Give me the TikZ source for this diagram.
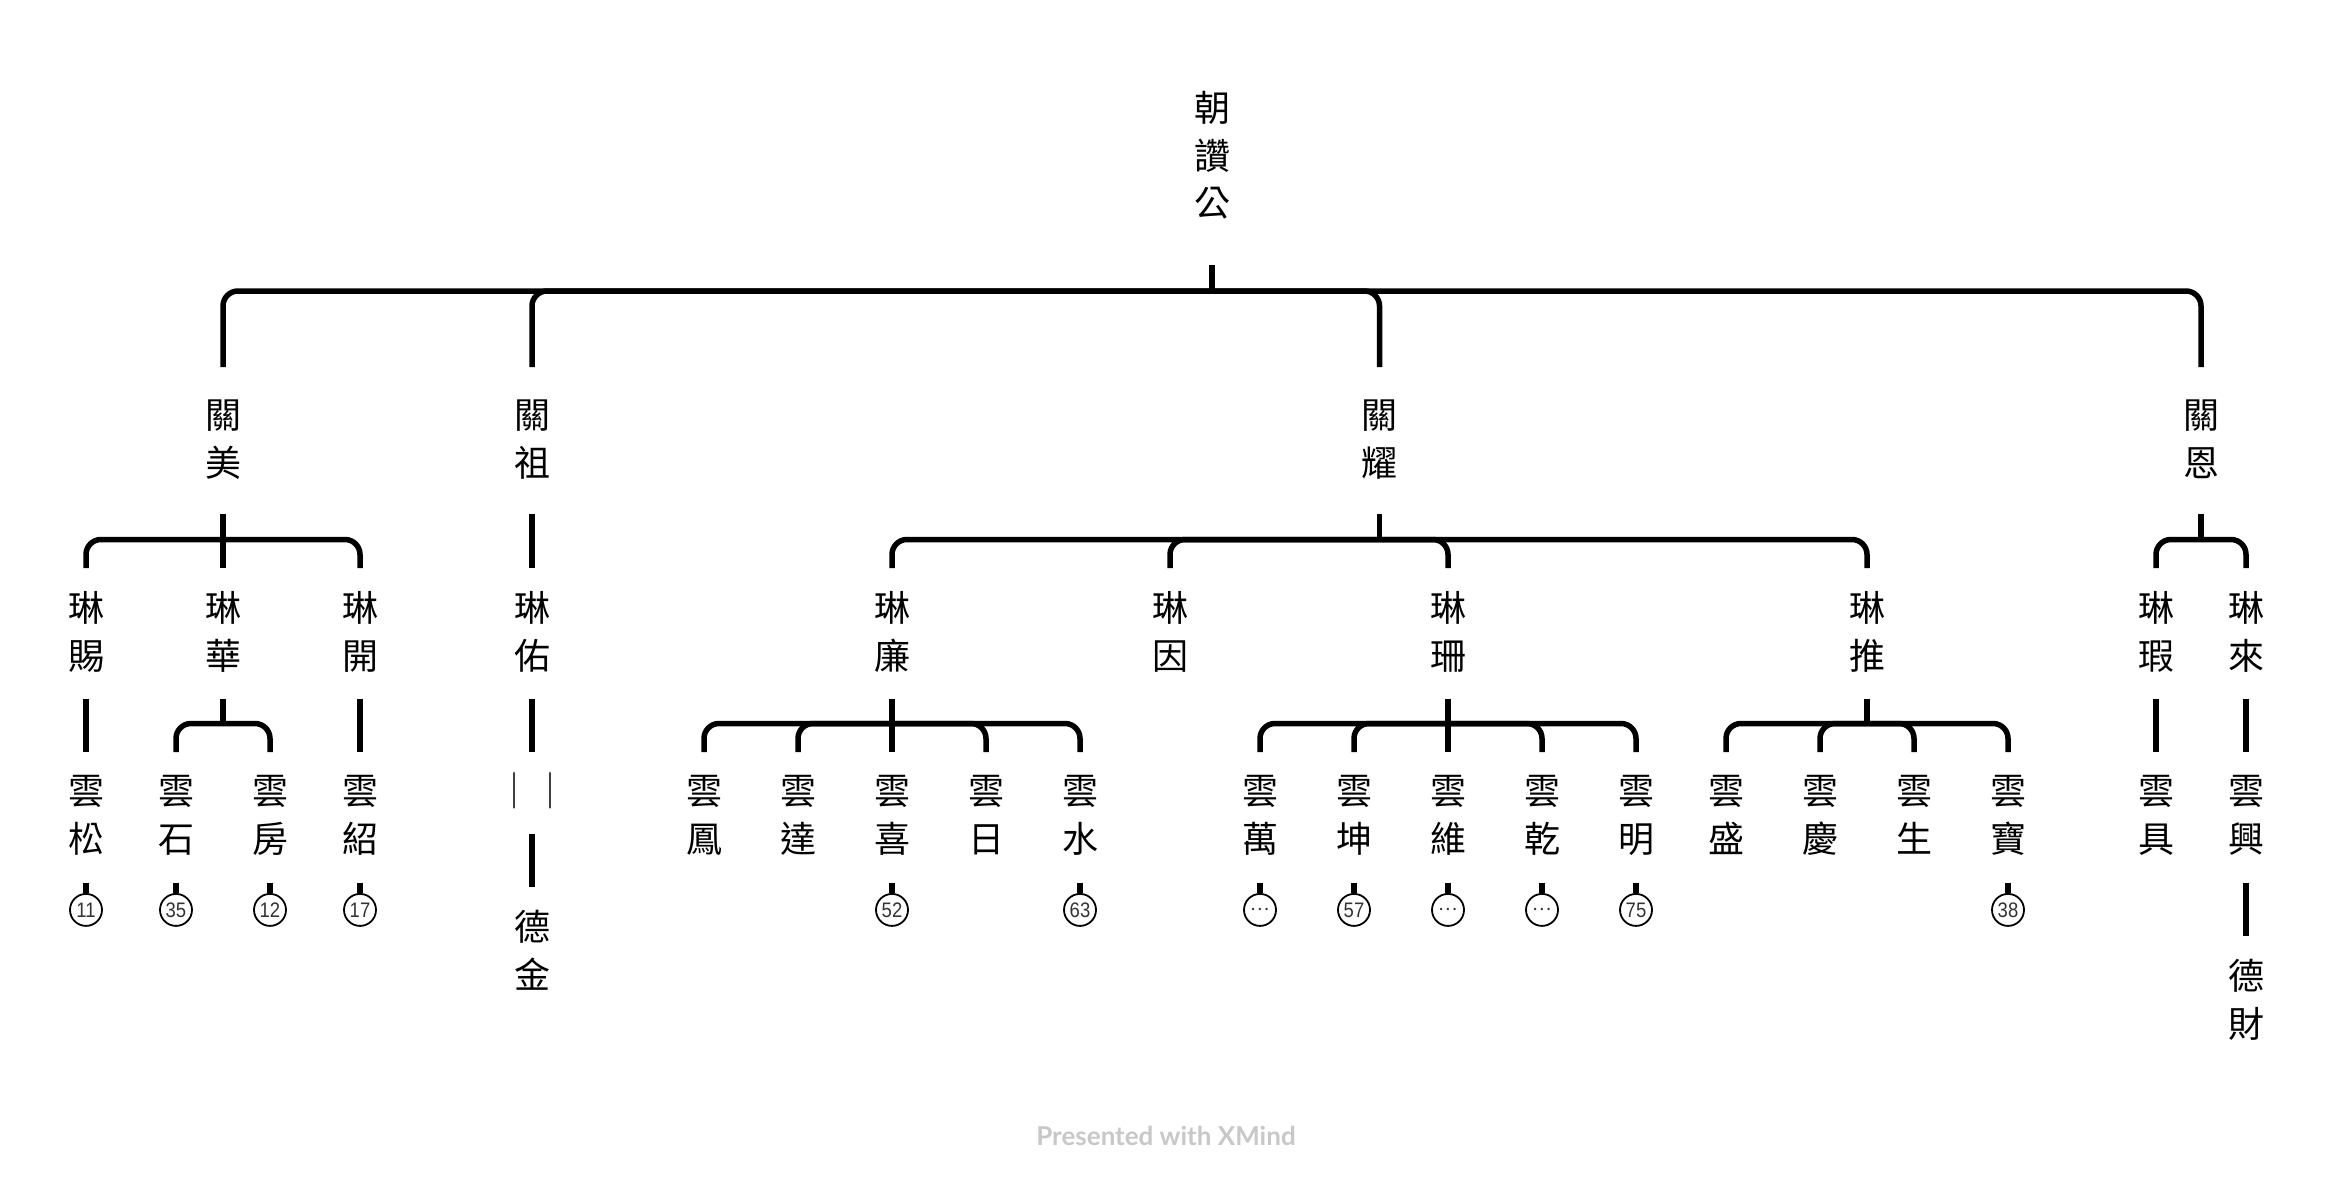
\documentclass[tikz,border=0pt]{standalone}
\usepackage{fontspec}
\usepackage{graphicx}
\newfontfamily\cjk{Noto Sans CJK TC}
\newfontfamily\numfont{Liberation Sans}
\newfontfamily\footfont{Lato}
\usetikzlibrary{calc}
\definecolor{numgray}{HTML}{333333}
\definecolor{footgray}{HTML}{C8C8C8}
\newcommand\vc[1]{\hbox to 40pt{\hss\vrule height 31.68pt depth 4.32pt width 0pt\relax#1\hss}}
\newcommand\vgap{\kern11.5pt\relax}
\newcommand\tstack[3]{\vbox{\offinterlineskip\kern#1pt\relax#3\kern#2pt\relax}}
\newcommand\lone[2]{\tstack{30}{33}{\vc{#1}\vgap\vc{#2}}}
\newcommand\ltwo[2]{\tstack{22}{25}{\vc{#1}\vgap\vc{#2}}}
\newcommand\lthree[2]{\tstack{21}{26}{\vc{#1}\vgap\vc{#2}}}
\newcommand\lfour[2]{\tstack{22}{22}{\vc{#1}\vgap\vc{#2}}}
\newcommand\numtxt[1]{\scalebox{0.88}[1]{#1}}
\newcommand\ellip{\cjk\fontsize{18}{18}\selectfont …}
\tikzset{
  topic/.style={anchor=north, inner sep=0pt, outer sep=0pt, font=\cjk\fontsize{36}{47.5}\selectfont},
  conn/.style={line width=5.5pt, draw=black},
  elbow/.style={conn, rounded corners=15pt},
  numc/.style={circle, draw=black, line width=1.8pt, minimum size=32pt, inner sep=0pt, anchor=north, font=\numfont\fontsize{21}{21}\selectfont, text=numgray},
}
\begin{document}
\begin{tikzpicture}[x=1pt,y=-1pt]
\useasboundingbox (0,0) rectangle (2332,1186);
\fill[white] (0,0) rectangle (2332,1186);

% root
\node[topic] (r) at (1212,70) {\tstack{20}{44}{\vc{朝}\vgap\vc{讚}\vgap\vc{公}}};

% level 1
\node[topic] (a1) at (223,367) {\lone{關}{美}};
\node[topic] (a2) at (532,367) {\lone{關}{祖}};
\node[topic] (a3) at (1379.5,367) {\lone{關}{耀}};
\node[topic] (a4) at (2201,367) {\lone{關}{恩}};

% level 2
\node[topic] (b1) at (86,568) {\ltwo{琳}{賜}};
\node[topic] (b2) at (223,568) {\ltwo{琳}{華}};
\node[topic] (b3) at (360,568) {\ltwo{琳}{開}};
\node[topic] (b4) at (532,568) {\ltwo{琳}{佑}};
\node[topic] (b5) at (892,568) {\ltwo{琳}{廉}};
\node[topic] (b6) at (1170,568) {\ltwo{琳}{因}};
\node[topic] (b7) at (1448,568) {\ltwo{琳}{珊}};
\node[topic] (b8) at (1867,568) {\ltwo{琳}{推}};
\node[topic] (b9) at (2156,568) {\ltwo{琳}{瑕}};
\node[topic] (b10) at (2246,568) {\ltwo{琳}{來}};

% level 3
\node[topic] (c1) at (86,752) {\lthree{雲}{松}};
\node[topic] (c2) at (176,752) {\lthree{雲}{石}};
\node[topic] (c3) at (270,752) {\lthree{雲}{房}};
\node[topic] (c4) at (360,752) {\lthree{雲}{紹}};
\node[topic] (g) at (532,752) {\tstack{21}{25}{\vc{｜｜}}};
\node[topic] (c5) at (704,752) {\lthree{雲}{鳳}};
\node[topic] (c6) at (798,752) {\lthree{雲}{達}};
\node[topic] (c7) at (892,752) {\lthree{雲}{喜}};
\node[topic] (c8) at (986,752) {\lthree{雲}{日}};
\node[topic] (c9) at (1080,752) {\lthree{雲}{水}};
\node[topic] (c10) at (1260,752) {\lthree{雲}{萬}};
\node[topic] (c11) at (1354,752) {\lthree{雲}{坤}};
\node[topic] (c12) at (1448,752) {\lthree{雲}{維}};
\node[topic] (c13) at (1542,752) {\lthree{雲}{乾}};
\node[topic] (c14) at (1636,752) {\lthree{雲}{明}};
\node[topic] (c15) at (1726,752) {\lthree{雲}{盛}};
\node[topic] (c16) at (1820,752) {\lthree{雲}{慶}};
\node[topic] (c17) at (1914,752) {\lthree{雲}{生}};
\node[topic] (c18) at (2008,752) {\lthree{雲}{寶}};
\node[topic] (c19) at (2156,752) {\lthree{雲}{具}};
\node[topic] (c20) at (2246,752) {\lthree{雲}{興}};

% level 4
\node[topic] (d1) at (532,887) {\lfour{德}{金}};
\node[topic] (d2) at (2246,936) {\lfour{德}{財}};

% number circles
\node[numc] (n1) at (86,893) {\numtxt{11}};
\node[numc] (n2) at (176,893) {\numtxt{35}};
\node[numc] (n3) at (270,893) {\numtxt{12}};
\node[numc] (n4) at (360,893) {\numtxt{17}};
\node[numc] (n7) at (892,893) {\numtxt{52}};
\node[numc] (n9) at (1080,893) {\numtxt{63}};
\node[numc] (n10) at (1260,893) {\ellip};
\node[numc] (n11) at (1354,893) {\numtxt{57}};
\node[numc] (n12) at (1448,893) {\ellip};
\node[numc] (n13) at (1542,893) {\ellip};
\node[numc] (n14) at (1636,893) {\numtxt{75}};
\node[numc] (n18) at (2008,893) {\numtxt{38}};

% footer
\node[font=\footfont\bfseries\fontsize{26}{26}\selectfont, text=footgray] (foot) at (1166,1136) {Presented with XMind};

% junctions
\coordinate (rj) at ($(r.south)+(0,26)$);
\coordinate (a1j) at ($(a1.south)+(0,26)$);
\coordinate (a3j) at ($(a3.south)+(0,26)$);
\coordinate (a4j) at ($(a4.south)+(0,26)$);
\coordinate (b2j) at ($(b2.south)+(0,25)$);
\coordinate (b5j) at ($(b5.south)+(0,25)$);
\coordinate (b7j) at ($(b7.south)+(0,25)$);
\coordinate (b8j) at ($(b8.south)+(0,25)$);

% root connectors
\draw[conn] (r.south) -- (rj);
\foreach \c in {a1,a2,a3,a4} \draw[elbow] (rj) -| (\c.north);

% level 1 connectors
\draw[conn] (a1.south) -- (b2.north);
\foreach \c in {b1,b3} \draw[elbow] (a1j) -| (\c.north);
\draw[conn] (a2.south) -- (b4.north);
\draw[conn] (a3.south) -- (a3j);
\foreach \c in {b5,b6,b7,b8} \draw[elbow] (a3j) -| (\c.north);
\draw[conn] (a4.south) -- (a4j);
\foreach \c in {b9,b10} \draw[elbow] (a4j) -| (\c.north);

% level 2 connectors
\draw[conn] (b1.south) -- (c1.north);
\draw[conn] (b2.south) -- (b2j);
\foreach \c in {c2,c3} \draw[elbow] (b2j) -| (\c.north);
\draw[conn] (b3.south) -- (c4.north);
\draw[conn] (b4.south) -- (g.north);
\draw[conn] (b5.south) -- (c7.north);
\foreach \c in {c5,c6,c8,c9} \draw[elbow] (b5j) -| (\c.north);
\draw[conn] (b7.south) -- (c12.north);
\foreach \c in {c10,c11,c13,c14} \draw[elbow] (b7j) -| (\c.north);
\draw[conn] (b8.south) -- (b8j);
\foreach \c in {c15,c16,c17,c18} \draw[elbow] (b8j) -| (\c.north);
\draw[conn] (b9.south) -- (c19.north);
\draw[conn] (b10.south) -- (c20.north);

% level 3 connectors
\foreach \p/\n in {c1/n1,c2/n2,c3/n3,c4/n4,c7/n7,c9/n9,c10/n10,c11/n11,c12/n12,c13/n13,c14/n14,c18/n18}
  \draw[conn] (\p.south) -- (\n.north);
\draw[conn] (g.south) -- (d1.north);
\draw[conn] (c20.south) -- (d2.north);
\end{tikzpicture}
\end{document}
